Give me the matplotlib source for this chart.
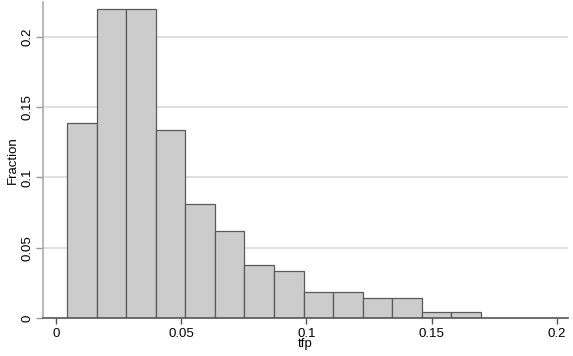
import numpy as np
import matplotlib.pyplot as plt

plt.rcParams['font.family'] = ['Liberation Sans', 'DejaVu Sans']

# histogram of tfp: bin edges and fraction per bin
bin_start = 0.0044
bin_width = 0.01181
fractions = [0.1388, 0.2195, 0.2195, 0.1335, 0.0813, 0.0617, 0.038,
             0.0332, 0.0187, 0.0187, 0.014, 0.014, 0.0045, 0.0045]
xticks = [0, 0.05, 0.1, 0.15, 0.2]
xtick_labels = ["0", "0.05", "0.1", "0.15", "0.2"]
yticks = [0, 0.05, 0.1, 0.15, 0.2]
ytick_labels = ["0", "0.05", "0.1", "0.15", "0.2"]


def main():
    fig = plt.figure(figsize=(5.73, 3.56), dpi=100)
    ax = fig.add_axes([0.075, 0.107, 0.916, 0.887])

    lefts = bin_start + bin_width * np.arange(len(fractions))
    ax.bar(lefts, fractions, width=bin_width, align="edge",
           color="#cccccc", edgecolor="#5a5a5a", linewidth=0.9, zorder=3)

    ax.set_xlim(-0.0052, 0.2044)
    ax.set_ylim(0, 0.2247)

    ax.set_yticks(yticks)
    ax.set_yticklabels(ytick_labels, rotation=90, va="center", fontsize=9.5)
    ax.set_xticks(xticks)
    ax.set_xticklabels(xtick_labels, fontsize=9.5)

    # light horizontal grid lines
    for y in yticks[1:]:
        ax.axhline(y, color="#d9d9d9", linewidth=1.2, zorder=1)

    for side in ["top", "right"]:
        ax.spines[side].set_visible(False)
    ax.spines["left"].set_color("#ababab")
    ax.spines["left"].set_linewidth(1.2)
    ax.spines["bottom"].set_color("#555555")
    ax.spines["bottom"].set_linewidth(1.2)
    ax.spines["bottom"].set_zorder(4)
    ax.tick_params(axis="y", colors="#999999", labelcolor="black",
                   length=5, width=1.0, pad=2)
    ax.tick_params(axis="x", colors="#555555", labelcolor="black",
                   length=4, width=1.0, pad=3)

    ax.set_xlabel("tfp", fontsize=9.5, labelpad=-1)
    ax.set_ylabel("Fraction", fontsize=9.5, labelpad=2)

    plt.savefig("out.png", dpi=100)
    plt.close()


main()
